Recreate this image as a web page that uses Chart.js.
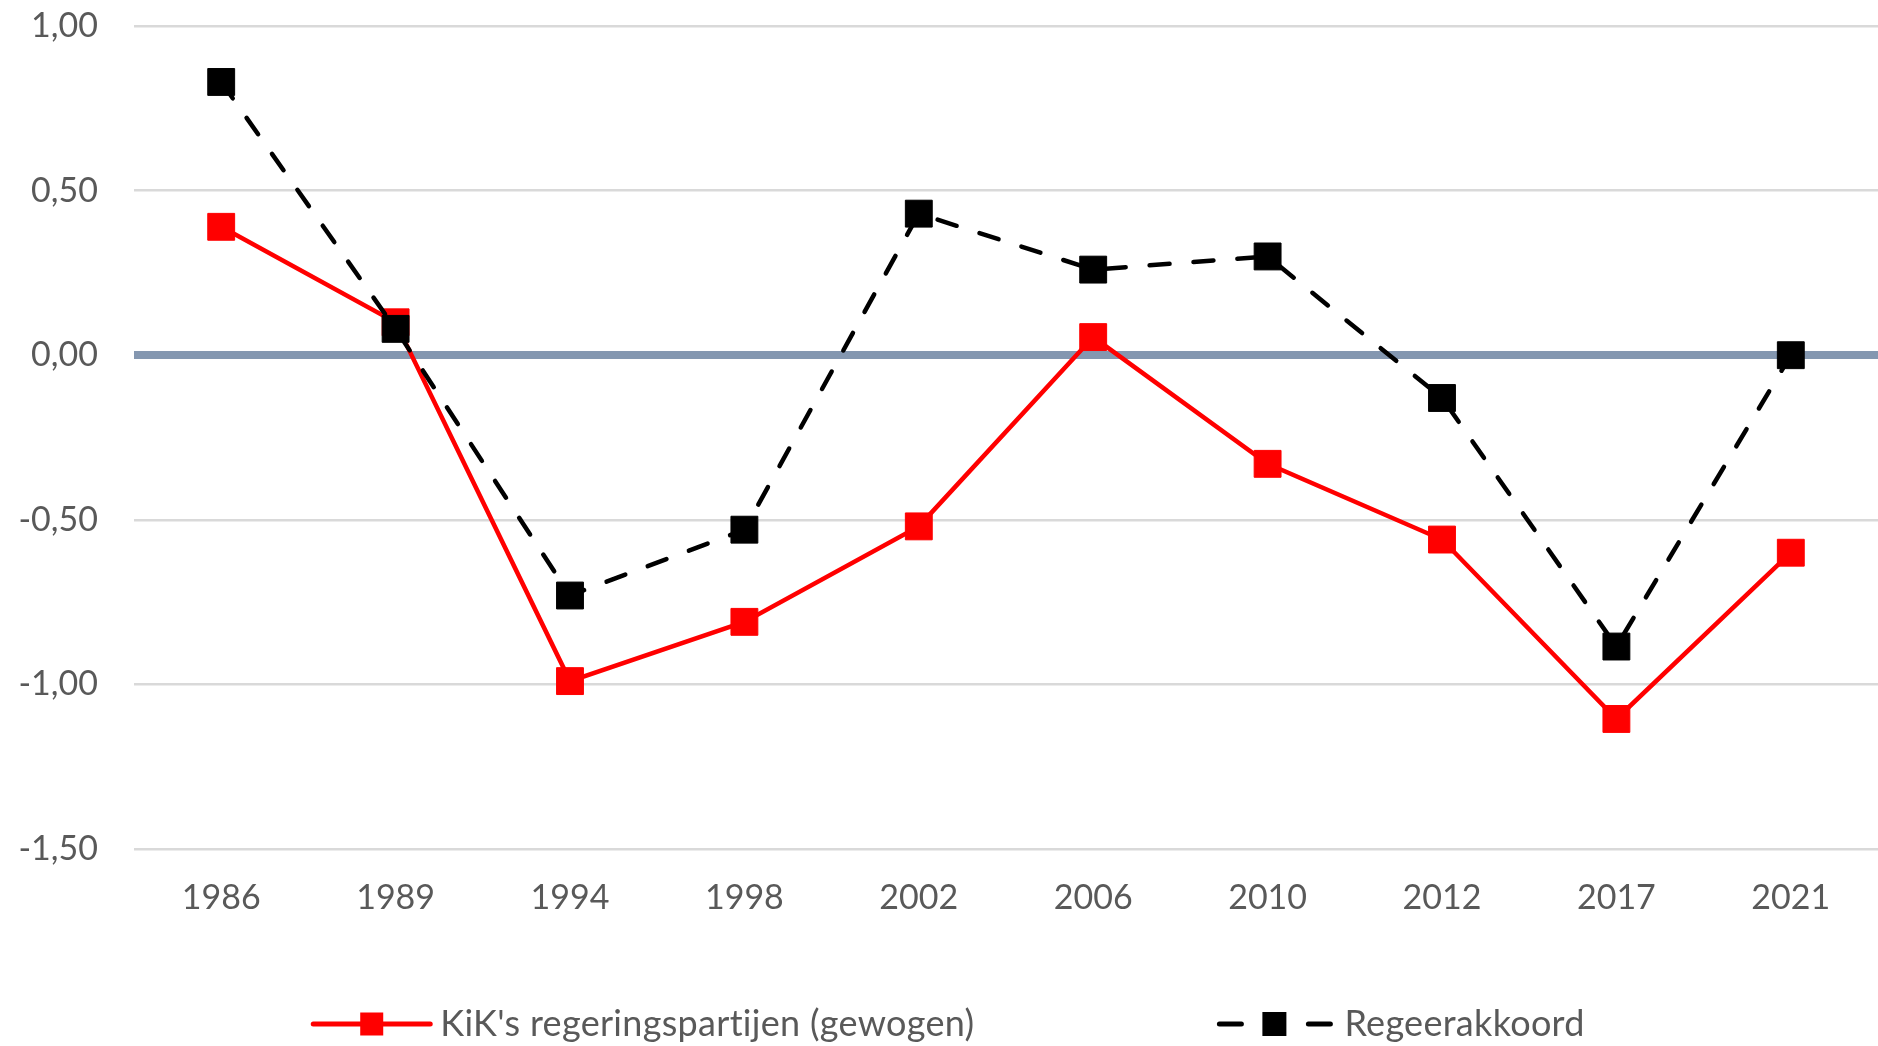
<!DOCTYPE html>
<html>
<head>
<meta charset="utf-8">
<script src="https://cdn.jsdelivr.net/npm/chart.js@4"></script>
<style>
  html, body { margin: 0; padding: 0; background: #ffffff; overflow: hidden; }
  #wrap { width: 1878px; height: 1046px; position: relative; }
</style>
</head>
<body>
<div id="wrap"><canvas id="c"></canvas></div>
<script>
const years = ['1986', '1989', '1994', '1998', '2002', '2006', '2010', '2012', '2017', '2021'];
const kikValues = [0.39, 0.10, -0.99, -0.81, -0.52, 0.055, -0.33, -0.56, -1.105, -0.60];
const akkoordValues = [0.83, 0.08, -0.73, -0.53, 0.43, 0.26, 0.30, -0.13, -0.885, 0.00];
const seriesNames = ["KiK's regeringspartijen (gewogen)", 'Regeerakkoord'];
const yTicks = [1.0, 0.5, 0.0, -0.5, -1.0, -1.5];

const FONT = 'Lato, "Open Sans", sans-serif';
const TEXT = '#595959';
const RED = '#ff0000';
const BLACK = '#000000';

function zeroPadding(scale) {
  scale.paddingTop = 0; scale.paddingBottom = 0;
  scale.paddingLeft = 0; scale.paddingRight = 0;
}

const legendPlugin = {
  id: 'customLegend',
  afterDraw(chart) {
    const ctx = chart.ctx;
    ctx.save();
    ctx.font = '36px ' + FONT;
    try { ctx.letterSpacing = '0.3px'; } catch (e) {}
    const sample = 117, txtGap = 10, itemGap = 243;
    const w1 = ctx.measureText(seriesNames[0]).width;
    const w2 = ctx.measureText(seriesNames[1]).width;
    const total = sample + txtGap + w1 + itemGap + sample + txtGap + w2;
    let x = 949 - total / 2;
    const y = 1024;
    // item 1: solid red line + marker
    ctx.strokeStyle = RED; ctx.lineWidth = 5; ctx.lineCap = 'round';
    ctx.beginPath(); ctx.moveTo(x, y); ctx.lineTo(x + sample, y); ctx.stroke();
    ctx.fillStyle = RED; ctx.fillRect(x + sample / 2 - 11.5, y - 11.5, 23, 23);
    ctx.fillStyle = TEXT; ctx.textBaseline = 'middle'; ctx.textAlign = 'left';
    ctx.fillText(seriesNames[0], x + sample + txtGap, y);
    x += sample + txtGap + w1 + itemGap;
    // item 2: dashed black + marker
    ctx.strokeStyle = BLACK; ctx.lineWidth = 5; ctx.lineCap = 'round';
    ctx.beginPath(); ctx.moveTo(x + 2, y); ctx.lineTo(x + 24, y); ctx.stroke();
    ctx.beginPath(); ctx.moveTo(x + 91, y); ctx.lineTo(x + 113, y); ctx.stroke();
    ctx.fillStyle = BLACK; ctx.fillRect(x + 57 - 12, y - 12, 24, 24);
    ctx.fillStyle = TEXT;
    ctx.fillText(seriesNames[1], x + sample + txtGap, y);
    ctx.restore();
  }
};

new Chart(document.getElementById('c'), {
  type: 'line',
  data: {
    labels: years,
    datasets: [
      {
        label: seriesNames[0],
        data: kikValues,
        borderColor: RED,
        backgroundColor: RED,
        borderWidth: 4.5,
        pointStyle: 'rect',
        pointRadius: 19,
        pointBorderWidth: 1,
        pointBackgroundColor: RED,
        pointBorderColor: RED,
        tension: 0,
        order: 1,
        clip: false
      },
      {
        label: seriesNames[1],
        data: akkoordValues,
        borderColor: BLACK,
        backgroundColor: BLACK,
        borderWidth: 4.5,
        borderDash: [20, 24],
        borderCapStyle: 'round',
        pointStyle: 'rect',
        pointRadius: 19,
        pointBorderWidth: 1,
        pointBackgroundColor: BLACK,
        pointBorderColor: BLACK,
        tension: 0,
        order: 0,
        clip: false
      }
    ]
  },
  options: {
    responsive: true,
    maintainAspectRatio: false,
    animation: false,
    layout: { autoPadding: false, padding: { left: 0, right: -5, top: 26, bottom: 97 } },
    plugins: {
      legend: { display: false },
      tooltip: { enabled: false },
      title: { display: false }
    },
    scales: {
      x: {
        type: 'category',
        offset: true,
        grid: { display: false, drawTicks: false },
        border: { display: false },
        ticks: {
          color: TEXT,
          font: { family: FONT, size: 34 },
          padding: 29,
          maxRotation: 0,
          autoSkip: false
        },
        afterFit(scale) { scale.height = 100; zeroPadding(scale); }
      },
      y: {
        min: -1.5,
        max: 1.0,
        afterBuildTicks(scale) { scale.ticks = yTicks.map(v => ({ value: v })); },
        grid: {
          drawTicks: false,
          color: (c) => (c.tick && c.tick.value === 0) ? '#8497b0' : '#d9d9d9',
          lineWidth: (c) => (c.tick && c.tick.value === 0) ? 8 : 2.5
        },
        border: { display: false },
        ticks: {
          color: TEXT,
          font: { family: FONT, size: 34 },
          padding: 36,
          callback: (v) => Number(v).toFixed(2).replace('.', ',')
        },
        afterFit(scale) { scale.width = 134; zeroPadding(scale); }
      }
    }
  },
  plugins: [legendPlugin]
});
</script>
</body>
</html>
